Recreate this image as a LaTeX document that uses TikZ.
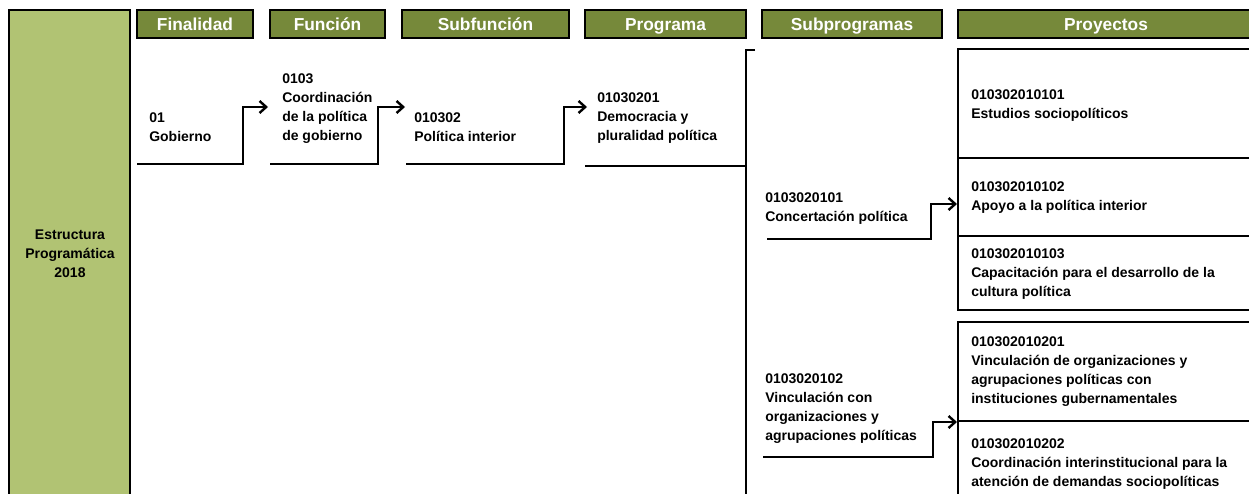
\documentclass[tikz,border=0pt]{standalone}
\usepackage{fontspec}
\setmainfont{Liberation Sans}
\usetikzlibrary{arrows.meta}
\definecolor{olivedark}{HTML}{76893A}
\definecolor{olivelight}{HTML}{B1C373}
\begin{document}
\begin{tikzpicture}[x=0.75pt,y=-0.75pt,
  head/.style={draw=black,line width=0.8pt,fill=olivedark,text=white,font=\fontsize{13}{15}\selectfont\bfseries,inner sep=0pt,minimum height=21pt,text height=11pt,text depth=1pt},
  txt/.style={anchor=west,align=left,inner sep=0pt,font=\fontsize{10.5}{14.25}\selectfont\bfseries},
  flow/.style={line width=2.2pt,-{Straight Barb[length=5pt,width=9pt,line width=1.8pt]}},
  rule/.style={line width=2.2pt},
  thin rule/.style={line width=1.4pt}]
\useasboundingbox (0,0) rectangle (1249,493);
\pgfmathsetmacro{\headh}{24}
% columna izquierda
\draw[fill=olivelight,line width=1pt] (9,10) rectangle (130,505);
\node[txt,anchor=center,align=center] (est) at (70,254) {Estructura\\Programática\\2018};
% encabezados
\node[head,minimum width=87pt] (hfin) at (195,\headh) {Finalidad};
\node[head,minimum width=86.25pt] (hfun) at (327.5,\headh) {Función};
\node[head,minimum width=125.25pt] (hsub) at (485.5,\headh) {Subfunción};
\node[head,minimum width=120.75pt] (hprog) at (665.5,\headh) {Programa};
\node[head,minimum width=135pt] (hsp) at (852,\headh) {Subprogramas};
\node[head,minimum width=222pt] (hproy) at (1106,\headh) {Proyectos};
% claves
\node[txt] (fin) at (149,127.5) {01\\Gobierno};
\node[txt] (fun) at (282,108.5) {0103\\Coordinación\\de la política\\de gobierno};
\node[txt] (sub) at (414,127.5) {010302\\Política interior};
\node[txt] (prog) at (597,118) {01030201\\Democracia y\\pluralidad política};
\node[txt] (sp1) at (765,208.5) {0103020101\\Concertación política};
\node[txt] (sp2) at (765,408.5) {0103020102\\Vinculación con\\organizaciones y\\agrupaciones políticas};
\node[txt] (p1) at (971,105.5) {010302010101\\Estudios sociopolíticos};
\node[txt] (p2) at (971,198) {010302010102\\Apoyo a la política interior};
\node[txt] (p3) at (971,274) {010302010103\\Capacitación para el desarrollo de la\\cultura política};
\node[txt] (p4) at (971,371.5) {010302010201\\Vinculación de organizaciones y\\agrupaciones políticas con\\instituciones gubernamentales};
\node[txt] (p5) at (971,464.5) {010302010202\\Coordinación interinstitucional para la\\atención de demandas sociopolíticas};
% puntos de los conectores
\coordinate (fin-a) at (137,164);
\coordinate (fin-b) at (243,164);
\coordinate (fun-in) at (268,107);
\coordinate (fun-a) at (270,164);
\coordinate (fun-b) at (378,164);
\coordinate (sub-in) at (405,107);
\coordinate (sub-a) at (406,164);
\coordinate (sub-b) at (564,164);
\coordinate (prog-in) at (587,107);
\coordinate (prog-a) at (585,166);
\coordinate (prog-b) at (746,166);
\coordinate (sp-top) at (746,50);
\coordinate (sp-tick) at (755,50);
\coordinate (sp-bot) at (746,505);
\coordinate (sp1-a) at (767,239);
\coordinate (sp1-b) at (931,239);
\coordinate (g1-in) at (957,204);
\coordinate (sp2-a) at (763,457);
\coordinate (sp2-b) at (933,457);
\coordinate (g2-in) at (957,422);
\draw[flow] (fin-a) -- (fin-b) |- (fun-in);
\draw[flow] (fun-a) -- (fun-b) |- (sub-in);
\draw[flow] (sub-a) -- (sub-b) |- (prog-in);
\draw[rule] (prog-a) -- (prog-b);
\draw[rule] (sp-tick) -- (sp-top) -- (sp-bot);
\draw[flow] (sp1-a) -- (sp1-b) |- (g1-in);
\draw[flow] (sp2-a) -- (sp2-b) |- (g2-in);
% recuadros de proyectos
\draw[rule] (1252,49) -- (958,49) -- (958,310) -- (1252,310);
\draw[thin rule] (958,158) -- (1252,158);
\draw[thin rule] (958,236) -- (1252,236);
\draw[rule] (1252,322) -- (958,322) -- (958,505);
\draw[thin rule] (958,421) -- (1252,421);
\end{tikzpicture}
\end{document}
